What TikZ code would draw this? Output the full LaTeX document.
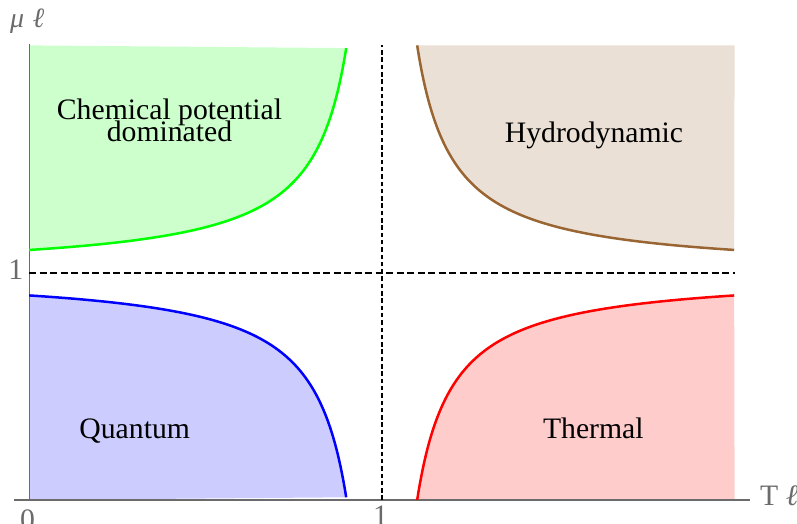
\documentclass[tikz,border=0pt]{standalone}
\usepackage{fontspec}
\setmainfont{Liberation Serif}
\definecolor{gline}{rgb}{0,1,0}
\definecolor{gfill}{rgb}{0.8,1,0.8}
\definecolor{bline}{rgb}{0,0,1}
\definecolor{bfill}{rgb}{0.8,0.8,1}
\definecolor{rline}{rgb}{1,0,0}
\definecolor{rfill}{rgb}{1,0.8,0.8}
\definecolor{brline}{rgb}{0.6,0.4,0.2}
\definecolor{brfill}{rgb}{0.92,0.88,0.84}
\definecolor{axisgray}{rgb}{0.42,0.42,0.42}
\tikzset{
  curve/.style={line width=2.5pt},
  hdash/.style={black,line width=2pt,dash pattern=on 7pt off 3.5pt},
  vdash/.style={black,line width=2pt,dash pattern=on 4.5pt off 2.8pt},
  axisline/.style={axisgray,line width=1.2pt},
  region/.style={font=\fontsize{29.7}{22}\selectfont, inner sep=0pt, anchor=base},
  ticklab/.style={axisgray,font=\fontsize{29.7}{30}\selectfont, inner sep=0pt},
}
\begin{document}
\begin{tikzpicture}[x=352.7pt,y=227.3pt]
\useasboundingbox (-29.2pt,-24pt) rectangle (767.8pt,500pt);
% fills
\fill[gfill] (0,2) -- plot[domain=0:0.9,samples=300] (\x,{1+0.1/(1-\x)}) -- cycle;
\fill[bfill] (0,0) -- plot[domain=0:0.9,samples=300] (\x,{1-0.1/(1-\x)}) -- cycle;
\fill[rfill] (2,0) -- plot[domain=1.1:2,samples=300] (\x,{1-0.1/(\x-1)}) -- cycle;
\fill[brfill] (2,2) -- plot[domain=1.1:2,samples=300] (\x,{1+0.1/(\x-1)}) -- cycle;
% axes
\coordinate (xa0) at (-0.043,0);
\coordinate (xa1) at (2.044,0);
\coordinate (ya0) at (0,0);
\coordinate (ya1) at (0,2.005);
\draw[axisline] (xa0) -- (xa1);
\draw[axisline] (ya0) -- (ya1);
% dashed guides
\coordinate (h0) at (0,1);
\coordinate (h1) at (2,1);
\coordinate (v0) at (1,0);
\coordinate (v1) at (1,2);
\draw[hdash] (h0) -- (h1);
\draw[vdash] (v0) -- (v1);
% curves
\draw[curve,gline] plot[domain=0:0.9,samples=300] (\x,{1+0.1/(1-\x)});
\draw[curve,bline] plot[domain=0:0.9,samples=300] (\x,{1-0.1/(1-\x)});
\draw[curve,rline] plot[domain=1.1:2,samples=300] (\x,{1-0.1/(\x-1)});
\draw[curve,brline] plot[domain=1.1:2,samples=300] (\x,{1+0.1/(\x-1)});
% region labels
\node[region] (chem1) at (140.3pt,380pt) {Chemical potential};
\node[region] (chem2) at (140.3pt,358pt) {dominated};
\node[region] (hydro) at (564.8pt,357pt) {Hydrodynamic};
\node[region] (quant) at (105.5pt,61.7pt) {Quantum};
\node[region] (therm) at (564.1pt,61.7pt) {Thermal};
% tick labels
\node[ticklab,anchor=north] (t0) at (-1.7pt,-9.3pt) {0};
\node[ticklab,anchor=north] (t1) at (351.3pt,-6pt) {1};
\node[ticklab,anchor=base] (ty1) at (-13.4pt,220pt) {1};
% axis labels
\node[axisgray,inner sep=0pt,anchor=base west,font=\fontsize{28}{28}\selectfont] (ylab) at (-19.2pt,472pt) {\textit{μ}\hspace{0.3em}\textit{ℓ}};
\node[axisgray,inner sep=0pt,anchor=base west,font=\fontsize{29.7}{30}\selectfont] (xlab) at (730.8pt,-6pt) {T\hspace{0.25em}\textit{ℓ}};
\end{tikzpicture}
\end{document}
